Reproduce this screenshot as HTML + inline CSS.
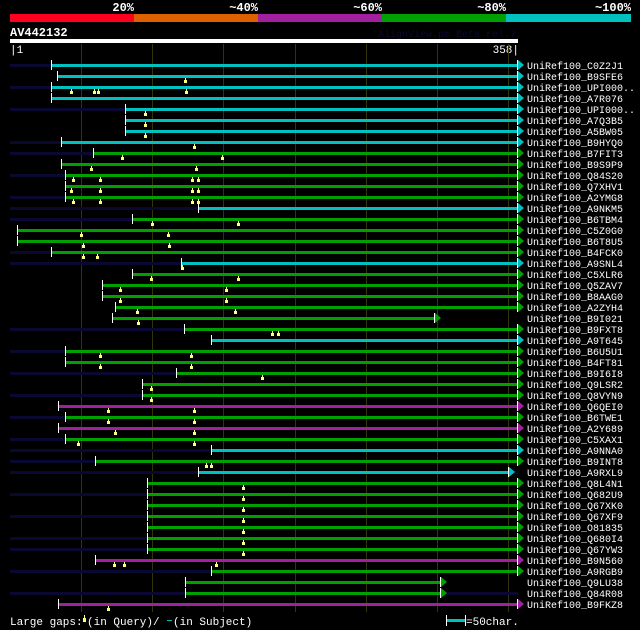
<!DOCTYPE html>
<html><head><meta charset="utf-8">
<style>
html,body{margin:0;padding:0;background:#000;}
svg{display:block;}
text{font-family:"Liberation Mono","DejaVu Sans Mono",monospace;}
</style></head>
<body>
<svg id="chart" width="640" height="630" viewBox="0 0 640 630" xmlns="http://www.w3.org/2000/svg">
  <g>
    <rect x="10" y="14" width="124" height="8" fill="#ff0020"/>
    <rect x="134" y="14" width="124" height="8" fill="#e06000"/>
    <rect x="258" y="14" width="124" height="8" fill="#a020a0"/>
    <rect x="382" y="14" width="124" height="8" fill="#00a000"/>
    <rect x="506" y="14" width="125" height="8" fill="#00c0c0"/>
    <text x="134" y="11" fill="#fff" font-size="12" font-weight="bold" text-anchor="end">20%</text>
    <text x="258" y="11" fill="#fff" font-size="12" font-weight="bold" text-anchor="end">~40%</text>
    <text x="382" y="11" fill="#fff" font-size="12" font-weight="bold" text-anchor="end">~60%</text>
    <text x="506" y="11" fill="#fff" font-size="12" font-weight="bold" text-anchor="end">~80%</text>
    <text x="631" y="11" fill="#fff" font-size="12" font-weight="bold" text-anchor="end">~100%</text>
  </g>
  <text x="10" y="36" fill="#fff" font-size="12" font-weight="bold">AV442132</text>
  <text x="516" y="37" fill="#0a0a30" font-size="10" text-anchor="end">AlignView.pm Beta rel.7</text>
  <rect x="10" y="39" width="508" height="4" fill="#fff"/>
  <text x="10" y="53" fill="#fff" font-size="11">|1</text>
  <text x="519" y="53" fill="#fff" font-size="11" text-anchor="end">358|</text>
  <g id="grid"></g>
  <g id="rows"></g>
  <g>
    <text x="10" y="625" fill="#fff" font-size="11">Large gaps:</text>
    <rect x="83" y="618" width="3" height="4" fill="#ffff80"/>
    <rect x="84" y="615" width="1" height="3" fill="#ffff80"/>
    <text x="87" y="625" fill="#fff" font-size="11">(in Query)/</text>
    <rect x="167" y="620" width="5" height="1" fill="#00c0c0"/>
    <text x="173" y="625" fill="#fff" font-size="11">(in Subject)</text>
    <rect x="446" y="615" width="1" height="11" fill="#fff"/>
    <rect x="447" y="619" width="18" height="3" fill="#00c0c0"/>
    <rect x="465" y="615" width="1" height="11" fill="#fff"/>
    <text x="466" y="625" fill="#fff" font-size="11">=50char.</text>
  </g>
</svg>
<script>
const names=["C0Z2J1","B9SFE6","UPI000..","A7R076","UPI000..","A7Q3B5","A5BW05","B9HYQ0","B7FIT3","B9S9P9","Q84S20","Q7XHV1","A2YMG8","A9NKM5","B6TBM4","C5Z0G0","B6T8U5","B4FCK0","A9SNL4","C5XLR6","Q5ZAV7","B8AAG0","A2ZYH4","B9I021","B9FXT8","A9T645","B6U5U1","B4FT81","B9I6I8","Q9LSR2","Q8VYN9","Q6QEI0","B6TWE1","A2Y689","C5XAX1","A9NNA0","B9INT8","A9RXL9","Q8L4N1","Q682U9","Q67XK0","Q67XF9","O81835","Q680I4","Q67YW3","B9N560","A9RGB9","Q9LU38","Q84R08","B9FKZ8"];
const starts=[30,34,30,30,82,82,82,37,59,37,40,40,40,133,87,6,6,30,121,87,66,66,75,73,123,142,40,40,118,94,94,35,40,35,40,142,61,133,97,97,97,97,97,97,97,61,142,124,124,35];
const ends=[358,358,358,358,358,358,358,358,358,358,358,358,358,358,358,358,358,358,358,358,358,358,358,300,358,358,358,358,358,358,358,358,358,358,358,358,358,352,358,358,358,358,358,358,358,358,358,304,304,358];
const colors=["c","c","c","c","c","c","c","c","g","g","g","g","g","c","g","g","g","g","c","g","g","g","g","g","g","c","g","g","g","g","g","p","g","p","g","c","g","c","g","g","g","g","g","g","g","p","g","g","g","p"];
const leftExt=[1,0,1,0,1,0,0,1,1,0,1,0,1,1,1,0,0,1,1,0,0,0,0,0,1,0,1,0,1,0,1,0,1,0,1,1,1,1,0,1,0,1,0,1,1,0,1,0,1,0];
const markers=[[],[124],[44,60,63,125],[],[96],[96],[96],[130],[80,150],[58,132],[45,64,129,133],[44,64,129,133],[45,64,129,133],[],[101,161],[51,112],[52,113],[52,62],[122],[100,161],[78,153],[78,153],[90,159],[91],[185,189],[],[64,128],[64,128],[178],[100],[100],[70,130],[70,130],[75,130],[49,130],[],[139,142],[],[165],[165],[165],[165],[165],[165],[165],[74,81,146],[],[],[],[70]];
const gridTicks=[50,100,150,200,250,300,350];
const QLEN=358;
const cmap={c:"#00c0c0",g:"#00a000",p:"#a020a0"};
const NS="http://www.w3.org/2000/svg";
function xs(r){return 10+(r-1)/(QLEN-1)*508;}
function ys(i){return 65+i*11;}
function mk(tag,attrs,parent){const e=document.createElementNS(NS,tag);for(const k in attrs)e.setAttribute(k,attrs[k]);parent.appendChild(e);return e;}
const grid=document.getElementById('grid');
gridTicks.forEach(t=>{
  const l=mk('rect',{x:Math.round(xs(t+1)),y:44,width:1,height:568,fill:'#33330c'},grid);
  
  
});
const rows=document.getElementById('rows');
names.forEach((n,i)=>{
  const g=mk('g',{},rows);
  
  
  const y=ys(i), x0=Math.round(xs(starts[i])), x1=Math.round(xs(ends[i]));
  const col=cmap[colors[i]];
  if(leftExt[i]){const d=mk('rect',{x:10,y:y-1,width:x0-10,height:3,fill:'#080830'},g);
    
    }
  if(ends[i]<QLEN && leftExt[i]){mk('rect',{x:x1,y:y-1,width:518-x1,height:3,fill:'#080830'},g);}
  const b=mk('rect',{x:x0,y:y-1,width:x1-x0,height:3,fill:col},g);
  
  
  mk('rect',{x:x0,y:y-5,width:1,height:10,fill:'#fff'},g);
  mk('rect',{x:x1-1,y:y-5,width:1,height:10,fill:'#fff'},g);
  mk('polygon',{points:`${x1},${y-5} ${x1+6},${y} ${x1},${y+5}`,fill:col},g);
  markers[i].forEach(m=>{
    const mx=Math.round(xs(m));
    const s=mk('rect',{x:mx-1,y:y+4,width:3,height:3,fill:'#ffff80'},g);
    
    
    mk('rect',{x:mx,y:y+2,width:1,height:2,fill:'#ffff80'},g);
  });
  const t=mk('text',{x:527,y:y+4,fill:'#fff','font-size':'10'},g);
  t.textContent='UniRef100_'+n;
  
  
});
</script>
</body></html>
